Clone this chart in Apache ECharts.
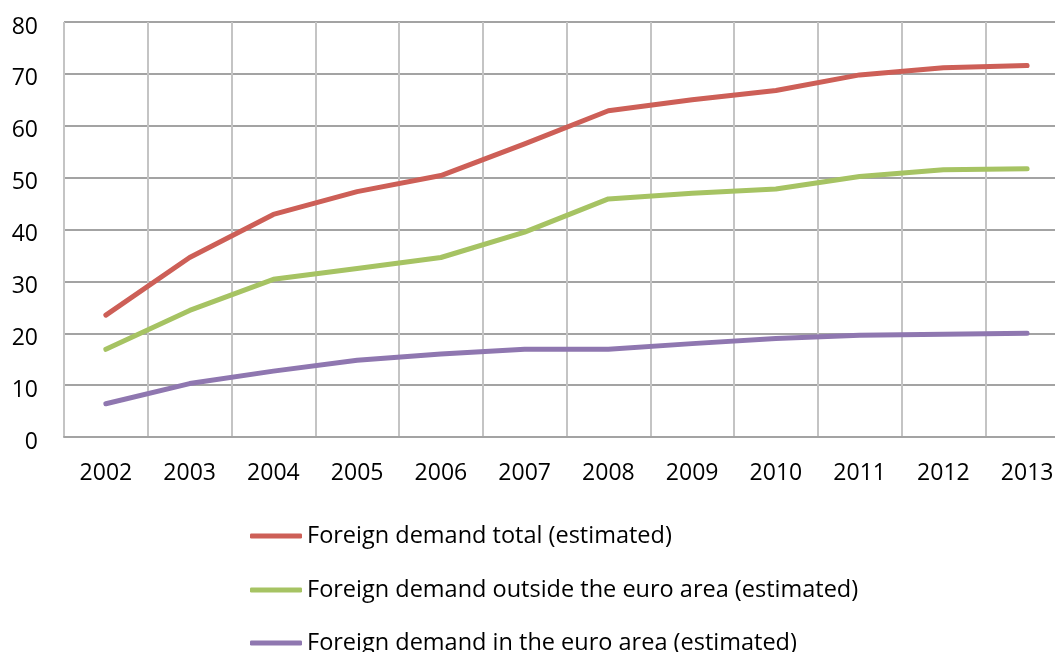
<!DOCTYPE html>
<html><head><meta charset="utf-8">
<script src="https://cdn.jsdelivr.net/npm/echarts@6/dist/echarts.min.js"></script>
<style>html,body{margin:0;padding:0;background:#fff;overflow:hidden;width:1055px;height:652px}#c{width:1069px;height:652px}</style>
</head><body><div id="c"></div>
<script>
const years = ['2002','2003','2004','2005','2006','2007','2008','2009','2010','2011','2012','2013'];
const totalDemand = [23.5, 34.6, 42.9, 47.3, 50.4, 56.5, 62.9, 65.0, 66.8, 69.8, 71.2, 71.6];
const outsideEuro = [16.9, 24.4, 30.4, 32.5, 34.6, 39.5, 45.9, 47.0, 47.8, 50.2, 51.5, 51.7];
const insideEuro  = [6.4, 10.3, 12.7, 14.8, 16.0, 16.9, 16.9, 18.0, 19.0, 19.6, 19.8, 20.0];
const seriesNames = ['Foreign demand total (estimated)', 'Foreign demand outside the euro area (estimated)', 'Foreign demand in the euro area (estimated)'];
const colors = ['#cd5f57', '#a6c363', '#8f77b0'];
const FONT = 'Open Sans';

const chart = echarts.init(document.getElementById('c'), null, {renderer: 'canvas'});
const legendTops = [524, 578, 631];
chart.setOption({
  animation: false,
  backgroundColor: '#fff',
  grid: {left: 64, right: 0, top: 22, bottom: 215, containLabel: false},
  legend: seriesNames.map((n, i) => ({
    data: [n], left: 250, top: legendTops[i], orient: 'vertical', padding: 0,
    icon: 'roundRect', itemWidth: 52, itemHeight: 5,
    textStyle: {fontFamily: FONT, fontSize: 23.5, color: '#000'},
    selectedMode: false
  })),
  xAxis: {
    type: 'category', data: years, boundaryGap: true,
    axisLine: {show: true, lineStyle: {color: '#a3a3a3', width: 2}},
    axisTick: {show: false},
    axisLabel: {fontFamily: FONT, fontSize: 23, color: '#000', margin: 25},
    splitLine: {show: true, interval: 0, lineStyle: {color: '#c4c4c4', width: 2}}
  },
  yAxis: {
    type: 'value', min: 0, max: 80, interval: 10,
    axisLine: {show: false}, axisTick: {show: false},
    axisLabel: {fontFamily: FONT, fontSize: 23, color: '#000', margin: 26, verticalAlign: 'top', lineHeight: 10},
    splitLine: {show: true, lineStyle: {color: '#a3a3a3', width: 2}}
  },
  series: [totalDemand, outsideEuro, insideEuro].map((d, i) => ({
    name: seriesNames[i], type: 'line', data: d,
    symbol: 'none', lineStyle: {color: colors[i], width: 5, cap: 'round', join: 'round'},
    itemStyle: {color: colors[i]}
  }))
});
</script></body></html>
